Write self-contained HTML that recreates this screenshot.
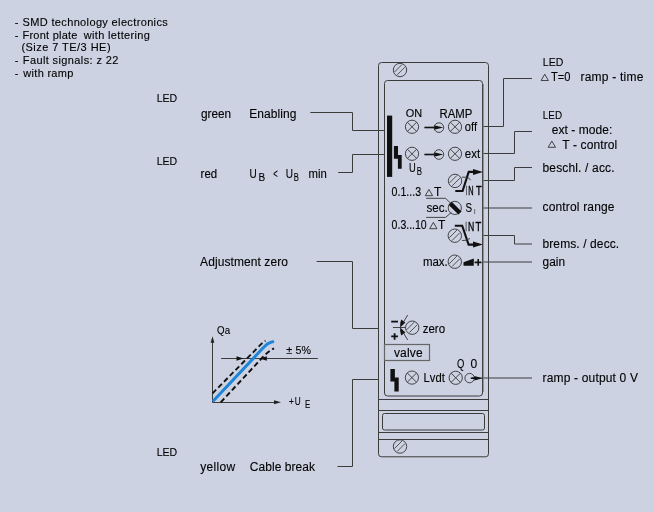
<!DOCTYPE html>
<html><head><meta charset="utf-8">
<style>
html,body{margin:0;padding:0;background:#ccd2e2;overflow:hidden;}
svg{display:block;will-change:transform;}
text{font-family:"Liberation Sans",sans-serif;fill:#000;stroke:#000;stroke-width:0.12px;}
.ln{stroke:#3c3c3c;stroke-width:1;fill:none;}
.thin{stroke:#333;stroke-width:0.9;fill:none;}
</style></head>
<body>
<svg width="654" height="512" viewBox="0 0 654 512">
<defs>
  <g id="led"><circle r="6.6" fill="none" stroke="#333" stroke-width="0.9"/><path d="M-4.6,-4.6L4.6,4.6M-4.6,4.6L4.6,-4.6" stroke="#333" stroke-width="0.9"/></g>
  <g id="scr"><circle r="6.7" fill="none" stroke="#333" stroke-width="0.9"/><path d="M-5.6,2.1L2.1,-5.6M-2.8,4.9L4.9,-2.8" stroke="#444" stroke-width="0.9"/></g>
  <path id="tri" d="M0.5,-0.5L4.15,-6.8L7.8,-0.5Z" fill="none" stroke="#333" stroke-width="0.9"/>
</defs>
<!-- leader lines left -->
<path class="ln" d="M310.3,112.5H352.5V130.5H385"/>
<path class="ln" d="M338.2,172.5H352.5V154.5H385"/>
<path class="ln" d="M316.6,261.5H352.5V328.5H379"/>
<path class="ln" d="M337.5,466.5H352.5V379.5H379"/>
<!-- leader lines right -->
<path class="ln" d="M483,126.5H503.5V78.5H532"/>
<path class="ln" d="M483,153.5H514.5V131.5H532"/>
<path class="ln" d="M483,180.5H514.5V167.5H532"/>
<path class="ln" d="M483,208H532"/>
<path class="ln" d="M483,235.5H514.5V244H532"/>
<path class="ln" d="M483,262H532"/>
<path class="ln" d="M472,378H532"/>
<use href="#tri" x="540.6" y="81"/>
<use href="#tri" x="547.7" y="147.8"/>
<use href="#tri" x="424.8" y="196.2"/>
<use href="#tri" x="429.2" y="229.2"/>

<!-- module -->
<rect x="378.5" y="62.5" width="110" height="394.3" rx="3" class="ln" stroke="#444"/>
<rect x="384.5" y="80.5" width="98" height="315.5" rx="3" class="ln" stroke="#444"/>
<line x1="483.3" y1="84" x2="483.3" y2="392" stroke="#777" stroke-width="0.9"/>
<line x1="378.5" y1="399.5" x2="488.5" y2="399.5" class="ln"/>
<line x1="378.5" y1="410.5" x2="488.5" y2="410.5" class="ln"/>
<rect x="382.5" y="413.5" width="102" height="16.5" rx="2" class="ln"/>
<line x1="378.5" y1="432.5" x2="488.5" y2="432.5" class="ln"/>
<line x1="378.5" y1="439.5" x2="488.5" y2="439.5" class="ln"/>
<use href="#scr" x="400" y="70"/>
<use href="#scr" x="400" y="446.5"/>

<rect x="387" y="115.6" width="5.2" height="61.3" fill="#111"/>
<path d="M393.9,146.1H398V155H401.7V168.7H397.9V158.8H393.9Z" fill="#111"/>

<use href="#led" x="412" y="126.8"/>
<use href="#led" x="455" y="126.8"/>
<use href="#led" x="412" y="153.8"/>
<use href="#led" x="455" y="153.8"/>
<path d="M424.4,127.5H436" stroke="#111" stroke-width="1.6"/>
<path d="M443.4,127.5L434,125.3V129.7Z" fill="#111"/>
<circle cx="438.9" cy="127.6" r="4.8" fill="none" stroke="#333" stroke-width="0.9"/>
<path d="M424.4,154.5H436" stroke="#111" stroke-width="1.6"/>
<path d="M443.4,154.5L434,152.3V156.7Z" fill="#111"/>
<circle cx="438.9" cy="154.5" r="4.8" fill="none" stroke="#333" stroke-width="0.9"/>

<use href="#scr" x="455" y="180.9"/>
<path d="M455.3,191H462.6L468.7,171.9H474" stroke="#111" stroke-width="2.1" fill="none"/>
<path d="M483,172L473,169V175Z" fill="#111"/>
<path d="M461.8,177.2H467.1Q469.5,178 470.6,180.3" class="thin"/>

<path class="thin" d="M426.2,198.3H445.6L451.4,204.1"/>
<circle cx="454.8" cy="207.9" r="6.6" fill="none" stroke="#333" stroke-width="0.9"/>
<path d="M450.2,203.4L460,213" stroke="#111" stroke-width="4.4"/>
<path class="thin" d="M426.2,217.4H445.6L451.4,212.4"/>
<use href="#scr" x="454.8" y="235.7"/>
<path d="M454.8,225.7H462.2L468.6,244.6H474" stroke="#111" stroke-width="2.1" fill="none"/>
<path d="M483,244.6L473,241.6V247.6Z" fill="#111"/>
<path d="M462,240.5Q466,241 470,238.5" class="thin"/>

<use href="#scr" x="454.8" y="261.7"/>
<path d="M463.5,262.2L473.8,258.4V265.8H463.5Z" fill="#111"/>
<path d="M474.6,262.4H481.5M478.2,259.1V265.7" stroke="#111" stroke-width="1.6"/>

<path d="M391.2,321.6H398" stroke="#111" stroke-width="1.8"/>
<path d="M391.2,336.4H398M394.6,333.3V339.8" stroke="#111" stroke-width="1.8"/>
<path d="M392.9,327.5H405.5" class="thin"/>
<path d="M401.2,319.6L405.3,322.6L400.2,327.5Q399.6,323.5 401.2,319.6Z" fill="#111"/>
<path d="M401.2,335.4L405.3,332.4L400.2,327.5Q399.6,331.5 401.2,335.4Z" fill="#111"/>
<path d="M407.7,315L403.2,322.5M407.7,340L403.2,332.5" class="thin"/>
<use href="#scr" x="412.2" y="327.7"/>

<rect x="384.5" y="344.5" width="45" height="16" fill="none" stroke="#666" stroke-width="1.2"/>

<path d="M390.4,369H394.9V377.6H398.7V391.6H394.4V381.4H390.4Z" fill="#111"/>
<use href="#led" x="411.9" y="377.6"/>
<use href="#led" x="455.7" y="377.8"/>
<circle cx="469.6" cy="378.1" r="4.7" fill="none" stroke="#333" stroke-width="0.9"/>
<path d="M470.8,378.2H476" stroke="#111" stroke-width="1.6"/><path d="M482.6,378.2L474.4,375.9V380.5Z" fill="#111"/>

<!-- graph -->
<path class="ln" d="M212.5,402.5V339"/>
<path d="M212.5,336.2L210.6,342.8H214.4Z" fill="#222"/>
<path class="ln" d="M212.5,402.5H276"/>
<path d="M281,402.3L274,400.3V404.3Z" fill="#222"/>
<path class="ln" d="M221.1,358.5H317.8"/>
<path d="M243.5,358.5L236.5,356.3V360.7Z" fill="#111"/>
<path d="M259.8,358.5L266.8,356.3V360.7Z" fill="#111"/>
<path d="M212.5,393.4L257.5,347.8Q262,343 265.5,340.8" stroke="#111" stroke-width="1.9" fill="none" stroke-dasharray="5.2,3"/>
<path d="M220.7,402.3L262,358Q268,351.5 274,348.4" stroke="#111" stroke-width="1.9" fill="none" stroke-dasharray="5.2,3"/>
<path d="M213,401.3L256,355.5Q263,347.5 267.5,343.8Q270.5,342.3 274,341.4" stroke="#1d86d8" stroke-width="3" fill="none"/>

<text x="14.80" y="26.2" font-size="11">-</text>
<text x="22.50" y="26.2" font-size="11" textLength="145.26" lengthAdjust="spacing">SMD technology electronics</text>
<text x="14.80" y="38.8" font-size="11">-</text>
<text x="22.50" y="38.8" font-size="11" textLength="54.96" lengthAdjust="spacing">Front plate</text>
<text x="83.72" y="38.8" font-size="11" textLength="66.18" lengthAdjust="spacing">with lettering</text>
<text x="21.40" y="51.2" font-size="11" textLength="89.15" lengthAdjust="spacing">(Size 7 TE/3 HE)</text>
<text x="14.80" y="63.9" font-size="11">-</text>
<text x="22.80" y="63.9" font-size="11" textLength="95.53" lengthAdjust="spacing">Fault signals: z 22</text>
<text x="14.80" y="76.6" font-size="11">-</text>
<text x="23.32" y="76.6" font-size="11" textLength="50.03" lengthAdjust="spacing">with ramp</text>
<text x="156.70" y="101.8" font-size="11" textLength="20.52" lengthAdjust="spacingAndGlyphs">LED</text>
<text x="200.90" y="118" font-size="12" textLength="30.24" lengthAdjust="spacingAndGlyphs">green</text>
<text x="249.30" y="118" font-size="12" textLength="47.06" lengthAdjust="spacing">Enabling</text>
<text x="156.70" y="164.9" font-size="11" textLength="20.52" lengthAdjust="spacingAndGlyphs">LED</text>
<text x="200.60" y="177.7" font-size="12" textLength="16.57" lengthAdjust="spacingAndGlyphs">red</text>
<text x="249.60" y="177.7" font-size="12" textLength="7.24" lengthAdjust="spacingAndGlyphs">U</text>
<text x="258.40" y="180.9" font-size="10">B</text>
<text x="273.20" y="177.7" font-size="12" textLength="4.51" lengthAdjust="spacingAndGlyphs">&lt;</text>
<text x="285.70" y="177.7" font-size="12" textLength="7.24" lengthAdjust="spacingAndGlyphs">U</text>
<text x="293.70" y="180.9" font-size="10" textLength="5.14" lengthAdjust="spacingAndGlyphs">B</text>
<text x="308.60" y="178" font-size="12" textLength="18.26" lengthAdjust="spacingAndGlyphs">min</text>
<text x="200.10" y="265.5" font-size="12" textLength="87.86" lengthAdjust="spacing">Adjustment zero</text>
<text x="156.70" y="455.8" font-size="11" textLength="20.52" lengthAdjust="spacingAndGlyphs">LED</text>
<text x="200.30" y="471.2" font-size="12" textLength="34.77" lengthAdjust="spacing">yellow</text>
<text x="249.80" y="471.2" font-size="12" textLength="65.13" lengthAdjust="spacing">Cable break</text>
<text x="542.80" y="65.7" font-size="11" textLength="20.42" lengthAdjust="spacingAndGlyphs">LED</text>
<text x="551.00" y="80.6" font-size="12" textLength="19.51" lengthAdjust="spacingAndGlyphs">T=0</text>
<text x="580.50" y="80.6" font-size="12" textLength="62.85" lengthAdjust="spacing">ramp - time</text>
<text x="542.80" y="119" font-size="11" textLength="19.22" lengthAdjust="spacingAndGlyphs">LED</text>
<text x="551.70" y="134.1" font-size="12" textLength="60.62" lengthAdjust="spacing">ext - mode:</text>
<text x="562.30" y="148.7" font-size="12" textLength="54.94" lengthAdjust="spacing">T - control</text>
<text x="542.50" y="171.8" font-size="12" textLength="72.03" lengthAdjust="spacing">beschl. / acc.</text>
<text x="542.50" y="210.9" font-size="12" textLength="72.04" lengthAdjust="spacing">control range</text>
<text x="542.50" y="248.1" font-size="12" textLength="76.68" lengthAdjust="spacing">brems. / decc.</text>
<text x="542.50" y="266.3" font-size="12" textLength="22.54" lengthAdjust="spacingAndGlyphs">gain</text>
<text x="542.50" y="381.7" font-size="12" textLength="95.46" lengthAdjust="spacing">ramp - output 0 V</text>
<text x="405.80" y="116.6" font-size="11" textLength="16.40" lengthAdjust="spacingAndGlyphs">ON</text>
<text x="439.50" y="118" font-size="12" textLength="32.84" lengthAdjust="spacingAndGlyphs">RAMP</text>
<text x="464.80" y="130.8" font-size="12" textLength="12.20" lengthAdjust="spacingAndGlyphs">off</text>
<text x="464.80" y="157.8" font-size="12" textLength="15.41" lengthAdjust="spacingAndGlyphs">ext</text>
<text x="408.90" y="171.9" font-size="12" textLength="6.74" lengthAdjust="spacingAndGlyphs">U</text>
<text x="416.70" y="174.9" font-size="10" textLength="5.24" lengthAdjust="spacingAndGlyphs">B</text>
<text x="465.80" y="194.8" font-size="12" textLength="1.16" lengthAdjust="spacingAndGlyphs" style="stroke:#000;stroke-width:0.35px">I</text>
<text x="468.30" y="194.8" font-size="12" textLength="5.34" lengthAdjust="spacingAndGlyphs" style="stroke:#000;stroke-width:0.35px">N</text>
<text x="476.00" y="194.8" font-size="12" textLength="5.66" lengthAdjust="spacingAndGlyphs" style="stroke:#000;stroke-width:0.35px">T</text>
<text x="391.60" y="196.3" font-size="12" textLength="29.48" lengthAdjust="spacingAndGlyphs">0.1...3</text>
<text x="434.10" y="196.1" font-size="12">T</text>
<text x="426.50" y="211.6" font-size="12" textLength="21.31" lengthAdjust="spacingAndGlyphs">sec.</text>
<text x="465.60" y="211.6" font-size="12" textLength="6.60" lengthAdjust="spacingAndGlyphs">S</text>
<text x="474.20" y="214" font-size="8" textLength="1.17" lengthAdjust="spacingAndGlyphs">I</text>
<text x="391.60" y="229" font-size="12" textLength="35.13" lengthAdjust="spacingAndGlyphs">0.3...10</text>
<text x="438.00" y="229" font-size="12">T</text>
<text x="465.60" y="230.5" font-size="12" textLength="1.16" lengthAdjust="spacingAndGlyphs" style="stroke:#000;stroke-width:0.35px">I</text>
<text x="467.90" y="230.5" font-size="12" textLength="6.24" lengthAdjust="spacingAndGlyphs" style="stroke:#000;stroke-width:0.35px">N</text>
<text x="475.60" y="230.5" font-size="12" textLength="5.76" lengthAdjust="spacingAndGlyphs" style="stroke:#000;stroke-width:0.35px">T</text>
<text x="422.90" y="265.6" font-size="12" textLength="24.90" lengthAdjust="spacingAndGlyphs">max.</text>
<text x="422.70" y="332.7" font-size="12" textLength="22.37" lengthAdjust="spacingAndGlyphs">zero</text>
<text x="393.90" y="357" font-size="12" textLength="28.81" lengthAdjust="spacing">valve</text>
<text x="457.00" y="367.5" font-size="12" textLength="7.36" lengthAdjust="spacingAndGlyphs">Q</text>
<text x="470.40" y="367.5" font-size="12">0</text>
<text x="423.60" y="381.7" font-size="12" textLength="21.16" lengthAdjust="spacingAndGlyphs">Lvdt</text>
<text x="217.10" y="333.9" font-size="10" textLength="12.97" lengthAdjust="spacingAndGlyphs">Qa</text>
<text x="286.30" y="354.1" font-size="11">±</text>
<text x="295.50" y="354.1" font-size="11" textLength="15.42" lengthAdjust="spacingAndGlyphs">5%</text>
<text x="289.00" y="404.5" font-size="11" textLength="4.80" lengthAdjust="spacingAndGlyphs">+</text>
<text x="294.80" y="404.5" font-size="11" textLength="5.94" lengthAdjust="spacingAndGlyphs">U</text>
<text x="305.00" y="408" font-size="10" textLength="5.24" lengthAdjust="spacingAndGlyphs">E</text>
</svg>
</body></html>
